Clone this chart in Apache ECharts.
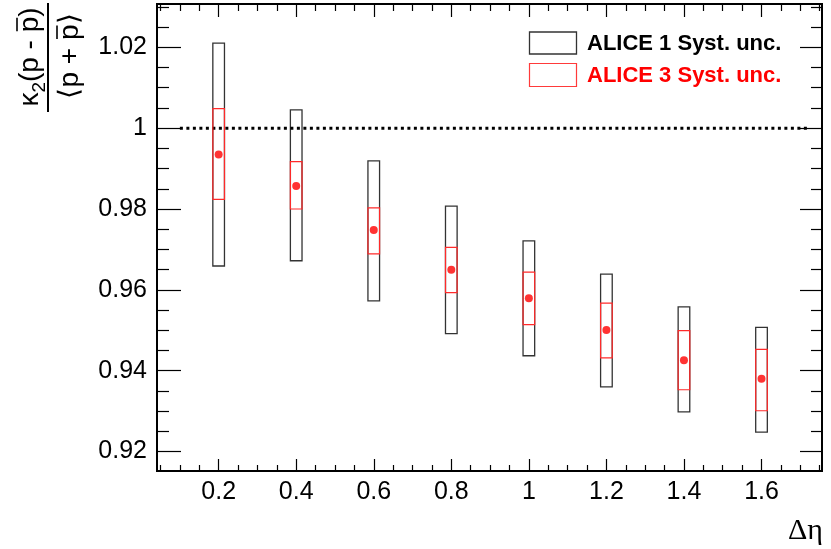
<!DOCTYPE html>
<html>
<head>
<meta charset="utf-8">
<script src="https://cdn.jsdelivr.net/npm/echarts@6/dist/echarts.min.js"></script>
<style>
  html, body { margin: 0; padding: 0; background: #fff; }
  #chart { width: 831px; height: 549px; }
</style>
</head>
<body>
<div id="chart"></div>
<script>
// Δη window centres
const etaValues = [0.2, 0.4, 0.6, 0.8, 1.0, 1.2, 1.4, 1.6];
// normalised second cumulant of net protons
const kappaValues = [0.9935, 0.9857, 0.9748, 0.9650, 0.9579, 0.9501, 0.9426, 0.9380];
// ALICE 1 systematic band (lower / upper edge)
const alice1Low  = [0.9659, 0.9672, 0.9573, 0.9492, 0.9437, 0.9360, 0.9298, 0.9248];
const alice1High = [1.0210, 1.0045, 0.9919, 0.9807, 0.9721, 0.9639, 0.9558, 0.9507];
// ALICE 3 systematic band (lower / upper edge)
const alice3Low  = [0.9824, 0.9800, 0.9689, 0.9593, 0.9514, 0.9432, 0.9353, 0.9301];
const alice3High = [1.0048, 0.9917, 0.9803, 0.9705, 0.9644, 0.9567, 0.9499, 0.9453];
// Poisson baseline at 1
const baselineX = [0.1, 1.72];
const baselineY = 1;
// tick labels
const xTickValues = [0.2, 0.4, 0.6, 0.8, 1.0, 1.2, 1.4, 1.6];
const yTickValues = [0.92, 0.94, 0.96, 0.98, 1.0, 1.02];
const xMinorValues = [0.05, 0.1, 0.15, 0.25, 0.3, 0.35, 0.45, 0.5, 0.55, 0.65, 0.7, 0.75,
  0.85, 0.9, 0.95, 1.05, 1.1, 1.15, 1.25, 1.3, 1.35, 1.45, 1.5, 1.55, 1.65, 1.7, 1.75];
const yMinorValues = [0.925, 0.93, 0.935, 0.945, 0.95, 0.955, 0.965, 0.97, 0.975,
  0.985, 0.99, 0.995, 1.005, 1.01, 1.015, 1.025, 1.03];

const X_MIN = 0.041, X_MAX = 1.756;
const Y_MIN = 0.9152, Y_MAX = 1.0307;
const BOX_HALF = 0.015;
const FONT = "'Liberation Sans', Arial, Helvetica, sans-serif";

const chart = echarts.init(document.getElementById('chart'), null, { renderer: 'canvas' });

// lay out a row of text pieces (with optional overline) along local x
const measureCtx = document.createElement('canvas').getContext('2d');
function mathRow(pieces, centerX, y, vAlign, size) {
  const els = [];
  const widths = pieces.map(p => {
    measureCtx.font = (p.size || size) + 'px ' + FONT;
    return measureCtx.measureText(p.t).width;
  });
  const total = widths.reduce((a, b) => a + b, 0);
  let cur = centerX - total / 2;
  pieces.forEach((p, i) => {
    const fs = p.size || size;
    els.push({ type: 'text', x: cur, y: y + (p.dy || 0), style: {
      text: p.t, font: fs + 'px ' + FONT, fill: '#000',
      align: 'left', verticalAlign: vAlign } });
    if (p.bar) {
      const by = vAlign === 'bottom' ? y - size + 1 : y + 1;
      els.push({ type: 'line', shape: { x1: cur + 1, y1: by, x2: cur + widths[i] - 1, y2: by },
        style: { stroke: '#000', lineWidth: 1.6 } });
    }
    cur += widths[i];
  });
  return els;
}

function boxSeries(low, high, color, width, z) {
  return {
    type: 'custom',
    xAxisIndex: 0, yAxisIndex: 0,
    z: z,
    data: etaValues.map((x, i) => [x, low[i], high[i]]),
    renderItem: function (params, api) {
      const x = api.value(0);
      const p1 = api.coord([x - BOX_HALF, api.value(2)]);
      const p2 = api.coord([x + BOX_HALF, api.value(1)]);
      return {
        type: 'rect',
        shape: { x: p1[0], y: p1[1], width: p2[0] - p1[0], height: p2[1] - p1[1] },
        style: { fill: 'none', stroke: color, lineWidth: width }
      };
    }
  };
}

function xAxis(pos, ticks, len, labels) {
  return {
    type: 'value', position: pos, min: X_MIN, max: X_MAX,
    axisLine: { show: false },
    splitLine: { show: false },
    axisTick: { show: true, inside: true, length: len, customValues: ticks,
      lineStyle: { color: '#000', width: 1.2 } },
    axisLabel: labels ? { show: true, customValues: ticks, margin: 9,
      color: '#000', fontFamily: FONT, fontSize: 25,
      formatter: v => String(+v.toFixed(2)) } : { show: false }
  };
}
function yAxis(pos, ticks, len, labels) {
  return {
    type: 'value', position: pos, min: Y_MIN, max: Y_MAX,
    axisLine: { show: false },
    splitLine: { show: false },
    axisTick: { show: true, inside: true, length: len, customValues: ticks,
      lineStyle: { color: '#000', width: 1.2 } },
    axisLabel: labels ? { show: true, customValues: ticks, margin: 10,
      color: '#000', fontFamily: FONT, fontSize: 25,
      formatter: v => String(+v.toFixed(2)) } : { show: false }
  };
}

const titleChildren = [
  { type: 'line', shape: { x1: 0, y1: 0, x2: 109, y2: 0 },
    style: { stroke: '#000', lineWidth: 2 } }
].concat(
  mathRow([{ t: 'κ' }, { t: '2', size: 19, dy: 5 }, { t: '(p - ' }, { t: 'p', bar: true }, { t: ')' }],
    55, -4, 'bottom', 28),
  mathRow([{ t: '\u27E8p + ' }, { t: 'p', bar: true }, { t: '\u27E9' }],
    56, 8, 'top', 28)
);

const option = {
  backgroundColor: '#fff',
  animation: false,
  grid: { left: 157, right: 9, top: 4, bottom: 78, show: true,
    borderColor: '#000', borderWidth: 2, backgroundColor: 'transparent' },
  xAxis: [
    xAxis('bottom', xTickValues, 12, true),
    xAxis('bottom', xMinorValues, 6, false),
    xAxis('top', xTickValues, 13, false),
    xAxis('top', xMinorValues, 7, false)
  ],
  yAxis: [
    yAxis('left', yTickValues, 24, true),
    yAxis('left', yMinorValues, 12, false),
    yAxis('right', yTickValues, 22, false),
    yAxis('right', yMinorValues, 11, false)
  ],
  series: [
    boxSeries(alice1Low, alice1High, '#333', 1.3, 2),
    {
      type: 'line', xAxisIndex: 0, yAxisIndex: 0, z: 3,
      data: baselineX.map(x => [x, baselineY]),
      symbol: 'none',
      lineStyle: { color: '#000', width: 3, type: [3, 3.5] }
    },
    boxSeries(alice3Low, alice3High, '#ff2a2a', 1.2, 4),
    {
      type: 'scatter', xAxisIndex: 0, yAxisIndex: 0, z: 5,
      data: etaValues.map((x, i) => [x, kappaValues[i]]),
      symbol: 'circle', symbolSize: 8,
      itemStyle: { color: '#ff0000' }
    }
  ],
  graphic: [
    // legend
    { type: 'rect', shape: { x: 529.5, y: 32, width: 47, height: 22 },
      style: { fill: 'none', stroke: '#333', lineWidth: 1.3 } },
    { type: 'text', x: 587, y: 44, style: { text: 'ALICE 1 Syst. unc.', fill: '#000',
      font: "bold 22px " + FONT, textVerticalAlign: 'middle' } },
    { type: 'rect', shape: { x: 529.5, y: 63.5, width: 47, height: 23 },
      style: { fill: 'none', stroke: '#ff3a3a', lineWidth: 1.2 } },
    { type: 'text', x: 587, y: 76, style: { text: 'ALICE 3 Syst. unc.', fill: '#ff0000',
      font: "bold 22px " + FONT, textVerticalAlign: 'middle' } },
    // x-axis title
    { type: 'text', x: 823, y: 546, style: { text: 'Δη', fill: '#000',
      font: "30px 'Liberation Serif', 'DejaVu Serif', serif",
      align: 'right', verticalAlign: 'bottom' } },
    // y-axis title: fraction, rotated
    { type: 'group', x: 48, y: 112, rotation: Math.PI / 2, children: titleChildren }
  ]
};
chart.setOption(option);
</script>
</body>
</html>
